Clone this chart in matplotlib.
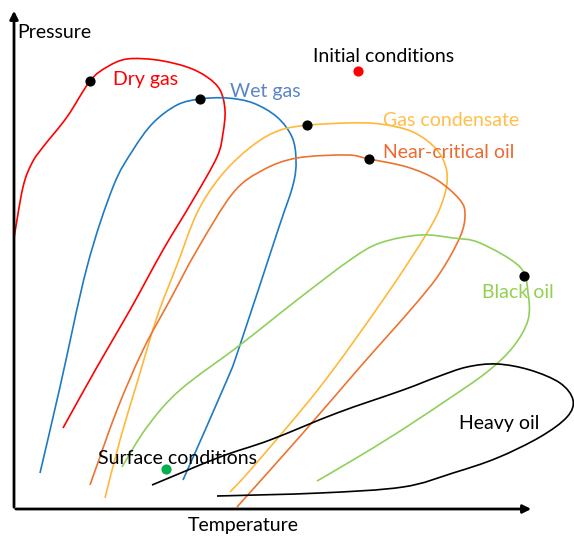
import matplotlib.pyplot as plt
from matplotlib.path import Path
from matplotlib.patches import PathPatch

plt.rcParams['font.family'] = ['Lato', 'DejaVu Sans']

# envelope traces (x, y in picture pixels, y down)
dry_x = [14, 23, 32, 43, 67, 90, 107, 127, 157, 187, 207, 220, 225, 223, 217, 193, 163, 130, 97, 63]
dry_y = [238, 187, 163, 147, 117, 81, 67, 59, 60, 67, 77, 90, 110, 133, 157, 200, 250, 310, 367, 428]

wet_x = [40, 60, 87, 113, 133, 153, 177, 200, 227, 253, 277, 292, 296, 293, 278, 240, 227, 183]
wet_y = [473, 387, 267, 187, 150, 123, 105, 99, 98, 103, 117, 137, 160, 185, 230, 345, 380, 480]

cond_x = [105, 120, 137, 157, 177, 197, 220, 247, 273, 300, 347, 380, 413, 437, 447, 443, 427, 383, 320, 253, 230]
cond_y = [498, 440, 383, 317, 265, 213, 177, 150, 133, 126, 123, 124, 132, 150, 173, 200, 233, 300, 387, 467, 492]

nco_x = [90, 117, 143, 170, 197, 233, 263, 297, 347, 369, 407, 437, 460, 465, 460, 440, 413, 360, 303, 237]
nco_y = [485, 410, 350, 300, 250, 193, 170, 158, 155, 159, 167, 180, 200, 215, 237, 273, 307, 367, 433, 507]

black_x = [122, 147, 180, 240, 297, 350, 380, 420, 453, 480, 520, 528, 528, 513, 487, 447, 397, 353, 317]
black_y = [467, 427, 390, 345, 300, 260, 243, 235, 238, 243, 267, 293, 320, 347, 372, 400, 433, 460, 481]

heavy_x = [152, 220, 270, 337, 403, 437, 467, 497, 530, 560, 573, 567, 540, 497, 453, 403, 320, 217]
heavy_y = [485, 457, 440, 413, 390, 377, 367, 364, 370, 383, 400, 417, 437, 458, 473, 487, 493, 496]

crit_x = [90, 200, 307, 369, 524]
crit_y = [81, 99, 125, 159, 276]

names = ['Dry gas', 'Wet gas', 'Gas condensate', 'Near-critical oil', 'Black oil', 'Heavy oil']
label_x = [113, 230, 383, 383, 482, 459]
label_y = [79, 92, 121, 153, 292, 423]


def smooth_path(xs, ys):
    # pass a bezier through the traced points (catmull-rom style handles)
    pts = list(zip(xs, ys))
    verts = [pts[0]]
    codes = [Path.MOVETO]
    n = len(pts)
    for i in range(n - 1):
        p0 = pts[i - 1] if i > 0 else pts[i]
        p1, p2 = pts[i], pts[i + 1]
        p3 = pts[i + 2] if i + 2 < n else pts[i + 1]
        c1 = (p1[0] + (p2[0] - p0[0]) / 6, p1[1] + (p2[1] - p0[1]) / 6)
        c2 = (p2[0] - (p3[0] - p1[0]) / 6, p2[1] - (p3[1] - p1[1]) / 6)
        verts += [c1, c2, p2]
        codes += [Path.CURVE4] * 3
    return Path(verts, codes)


fig = plt.figure(figsize=(5.74, 5.37), dpi=100)
ax = fig.add_axes([0, 0, 1, 1])
ax.set_xlim(0, 574)
ax.set_ylim(537, 0)
ax.axis('off')

curves = [(dry_x, dry_y, '#ff0000'), (wet_x, wet_y, '#1f7ac4'),
          (cond_x, cond_y, '#ffb83a'), (nco_x, nco_y, '#ec7430'),
          (black_x, black_y, '#8fd05a'), (heavy_x, heavy_y, 'black')]
for x, y, c in curves:
    ax.add_patch(PathPatch(smooth_path(x, y), facecolor='none', edgecolor=c, lw=1.2))

ax.scatter(crit_x, crit_y, s=40, color='black', zorder=5)
ax.scatter([358], [71], s=40, color='#ff0000', zorder=5)
ax.scatter([166], [469], s=40, color='#00b050', zorder=5)

label_colors = ['#ff0000', '#5a86c6', '#ffbf4a', '#ec6a32', '#92d050', 'black']
for n, x, y, c in zip(names, label_x, label_y, label_colors):
    ax.text(x, y, n, color=c, fontsize=14, va='center', ha='left')

ax.text(313, 56, 'Initial conditions', fontsize=14, va='center')
ax.text(98, 459, 'Surface conditions', fontsize=14, va='center')
ax.text(17, 32, 'Pressure', fontsize=14, va='center')
ax.text(188, 525, 'Temperature', fontsize=14, va='center')

# axes arrows
ax.annotate('', xy=(14, 8), xytext=(14, 510),
            arrowprops=dict(arrowstyle='-|>', lw=2, color='black', mutation_scale=12))
ax.annotate('', xy=(534, 509), xytext=(13, 509),
            arrowprops=dict(arrowstyle='-|>', lw=2, color='black', mutation_scale=12))

fig.savefig('out.png', dpi=100)
